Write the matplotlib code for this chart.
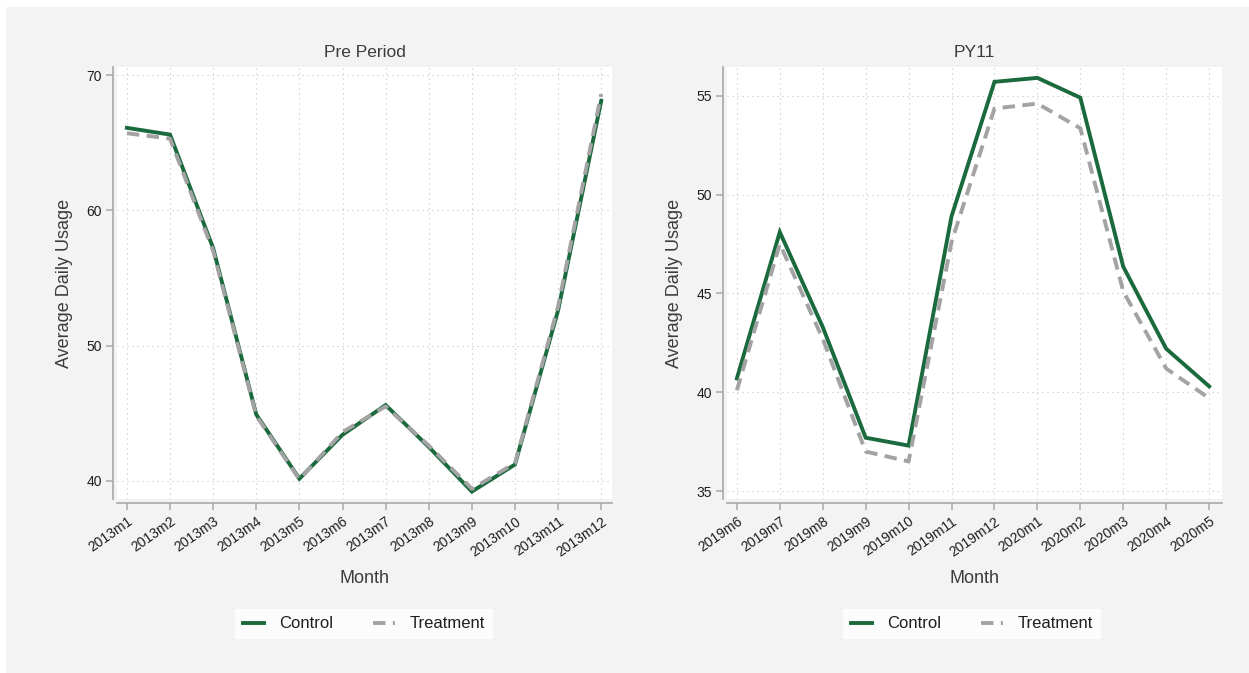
import matplotlib
matplotlib.use("Agg")
import matplotlib.pyplot as plt
from matplotlib.patches import Rectangle

# --- data -------------------------------------------------------------
pre_months = ["2013m1", "2013m2", "2013m3", "2013m4", "2013m5", "2013m6",
              "2013m7", "2013m8", "2013m9", "2013m10", "2013m11", "2013m12"]
pre_control = [66.1, 65.6, 57.2, 44.9, 40.15, 43.4, 45.6, 42.5, 39.2, 41.2, 52.6, 68.1]
pre_treatment = [65.7, 65.3, 57.0, 44.8, 40.1, 43.6, 45.5, 42.6, 39.4, 41.3, 52.9, 68.6]

py_months = ["2019m6", "2019m7", "2019m8", "2019m9", "2019m10", "2019m11",
             "2019m12", "2020m1", "2020m2", "2020m3", "2020m4", "2020m5"]
py_control = [40.7, 48.1, 43.3, 37.7, 37.3, 48.9, 55.7, 55.9, 54.9, 46.35, 42.2, 40.3]
py_treatment = [40.1, 47.5, 42.7, 37.0, 36.5, 47.6, 54.35, 54.6, 53.35, 45.1, 41.2, 39.7]

pre_yticks = [40, 50, 60, 70]
py_yticks = [35, 40, 45, 50, 55]

# --- style ------------------------------------------------------------
W, H = 1249, 673
DPI = 100
GREEN = "#1a6a3e"
GREY = "#a3a3a3"
BG = "#f3f3f3"
TXT = "#3c3c3c"
AXC = "#a8a8a8"

plt.rcParams["font.family"] = ["Liberation Sans", "DejaVu Sans"]

fig = plt.figure(figsize=(W / DPI, H / DPI), dpi=DPI, facecolor="white")
fig.patches.append(Rectangle((6 / W, 0), 1 - 6 / W, 1 - 7 / H,
                             transform=fig.transFigure, facecolor=BG,
                             edgecolor="none", zorder=-10))


def px_axes(x0, y0, x1, y1):
    return fig.add_axes([x0 / W, 1 - y1 / H, (x1 - x0) / W, (y1 - y0) / H])


def panel(ax, months, ctrl, treat, yticks, ylim, xlim, title, legend_cx):
    ax.set_facecolor("white")
    # axis lines sit slightly outside the plot region
    for s in ("top", "right"):
        ax.spines[s].set_visible(False)
    for s in ("left", "bottom"):
        ax.spines[s].set_color(AXC)
        ax.spines[s].set_linewidth(1.2)
        ax.spines[s].set_position(("outward", 3))

    x = list(range(len(months)))
    ax.plot(x, ctrl, color=GREEN, lw=2.8, solid_joinstyle="miter", zorder=3,
            label="Control")
    ax.plot(x, treat, color=GREY, lw=2.8, dashes=(3.2, 1.9), zorder=4,
            label="Treatment")
    ax.set_xlim(*xlim)
    ax.set_ylim(*ylim)
    ax.set_xticks(x)
    ax.set_xticklabels(months, rotation=35, ha="right", rotation_mode="anchor",
                       fontsize=10, color="#1e1e1e")
    ax.set_yticks(yticks)
    ax.set_yticklabels([str(v) for v in yticks], fontsize=10, color="#1e1e1e")
    ax.grid(True, color="#c4c4c4", lw=0.8, ls=(0, (1, 3.5)))
    ax.set_axisbelow(True)
    ax.tick_params(axis="both", direction="out", length=5, width=1.1,
                   color=AXC, pad=3)
    ax.set_title(title, fontsize=12.5, color=TXT, pad=7)
    ax.set_ylabel("Average Daily Usage", fontsize=13, color=TXT)
    ax.yaxis.set_label_coords(-0.088, 0.5)
    ax.set_xlabel("Month", fontsize=13, color=TXT)
    ax.xaxis.set_label_coords(0.5, -0.165)
    leg = fig.legend(handles=ax.get_lines(), loc="center",
                     bbox_to_anchor=(legend_cx / W, 1 - 624 / H), ncol=2,
                     frameon=True, fancybox=False, fontsize=12,
                     handlelength=1.3, columnspacing=2.4, handletextpad=0.9,
                     borderpad=0.45)
    leg.get_frame().set_facecolor("white")
    leg.get_frame().set_edgecolor("white")
    leg.get_frame().set_linewidth(0)
    for t in leg.get_texts():
        t.set_color("#1e1e1e")


ax1 = px_axes(117, 67, 612, 499)
panel(ax1, pre_months, pre_control, pre_treatment, pre_yticks,
      (38.65, 70.6), (-0.23, 11.25), "Pre Period", 364)

ax2 = px_axes(727, 67, 1222, 499)
panel(ax2, py_months, py_control, py_treatment, py_yticks,
      (34.6, 56.45), (-0.23, 11.3), "PY11", 972)

fig.savefig("out.png", dpi=DPI, facecolor=fig.get_facecolor())
